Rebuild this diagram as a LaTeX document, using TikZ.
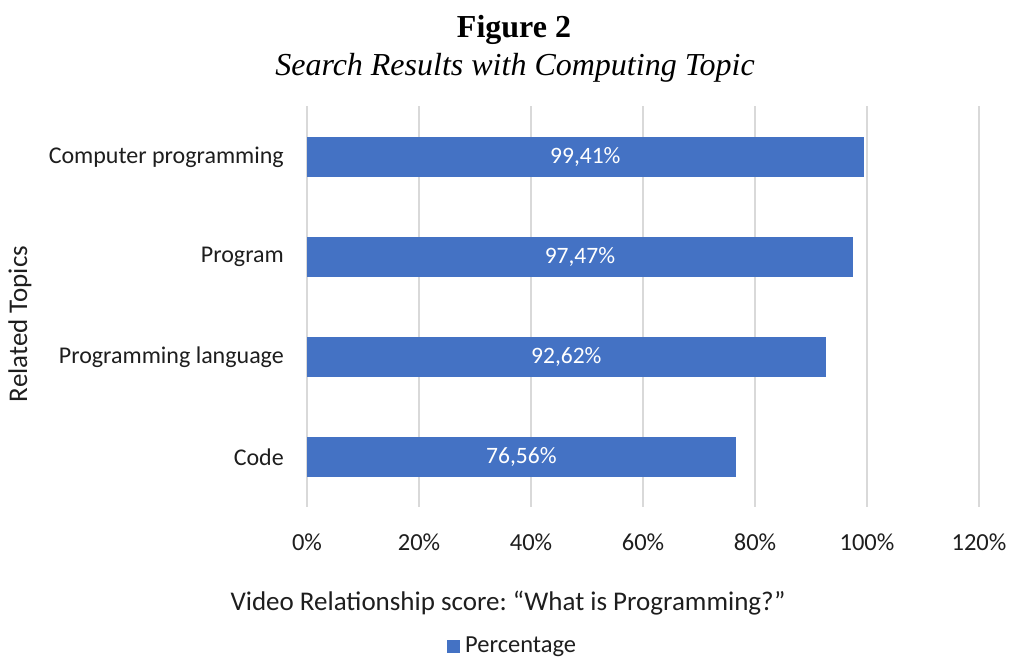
\documentclass[tikz,border=0pt]{standalone}
\usepackage{fontspec}
\setmainfont{Carlito}
\newfontfamily\timesf{Liberation Serif}
\definecolor{barblue}{RGB}{68,114,196}
\definecolor{gridgray}{RGB}{217,217,217}
\definecolor{txt}{RGB}{30,30,30}
\frenchspacing
\begin{document}
\begin{tikzpicture}[x=1pt,y=-1pt,
  bar/.style={fill=barblue,draw=none},
  gridln/.style={draw=gridgray,line width=2pt},
  cat/.style={anchor=east,text=txt,font=\fontsize{24}{26}\selectfont,inner sep=0pt},
  val/.style={text=white,font=\fontsize{23.5}{26}\selectfont,inner sep=0pt},
  tick/.style={text=txt,font=\fontsize{24.5}{26}\selectfont,inner sep=0pt},
  axlabel/.style={text=txt,font=\fontsize{27}{29}\selectfont,inner sep=0pt},
  leglabel/.style={text=txt,font=\fontsize{24.5}{26}\selectfont,inner sep=0pt}]
\useasboundingbox (0,0) rectangle (1009,657);
\node[font=\timesf\bfseries\fontsize{32}{34}\selectfont,inner sep=0pt] (title) at (514,30) {Figure 2};
\node[font=\timesf\itshape\fontsize{32}{34}\selectfont,inner sep=0pt] (subtitle) at (515,68) {Search Results with Computing Topic};
% gridlines
\foreach \i/\lab in {0/0\%,1/20\%,2/40\%,3/60\%,4/80\%,5/100\%,6/120\%}{
  \draw[gridln] (307+112*\i,106) -- (307+112*\i,507);
  \node[tick] (t\i) at (307+112*\i,542) {\lab};
}
% bars
\foreach \n/\v/\yc/\lab/\vl in {a/99.41/157/Computer programming/{99,41\%},b/97.47/257/Program/{97,47\%},c/92.62/357/Programming language/{92,62\%},d/76.56/457/Code/{76,56\%}}{
  \fill[bar] (307,\yc-20) rectangle (307+5.6*\v,\yc+20);
  \node[val] (v\n) at (307+2.8*\v,\yc) {\vl};
  \node[cat] (c\n) at (284,\yc) {\lab};
}
\node[axlabel,rotate=90] (ylab) at (20,324) {Related Topics};
\node[axlabel] (xlab) at (508,603) {Video Relationship score: “What is Programming?”};
\fill[barblue] (447,640) rectangle (460,653);
\node[leglabel,anchor=west] (leg) at (465,647) {Percentage};
\end{tikzpicture}
\end{document}
